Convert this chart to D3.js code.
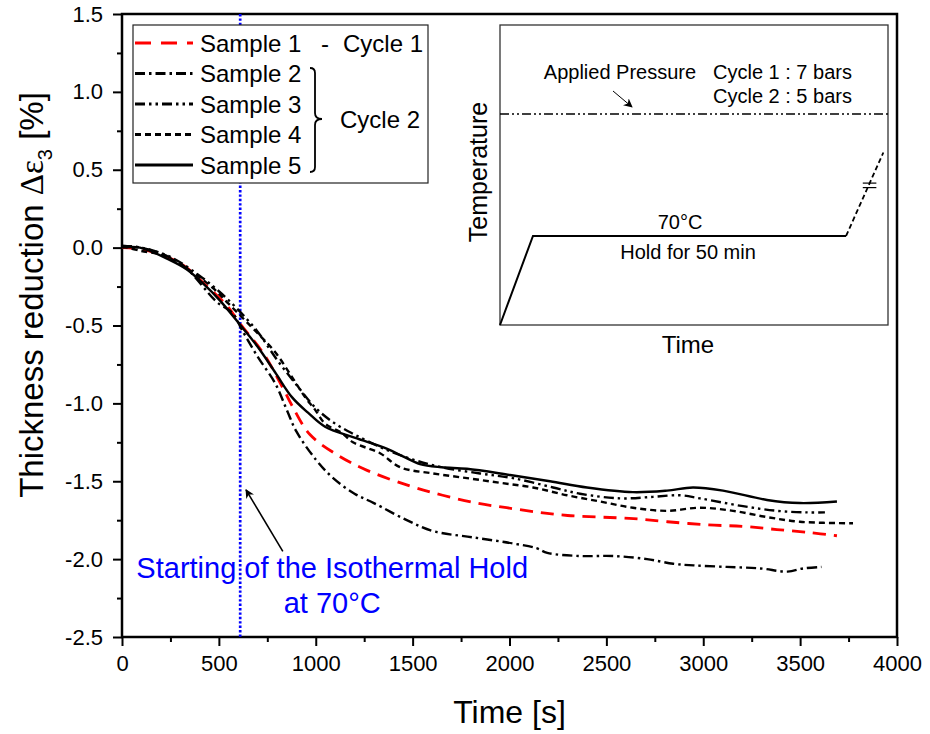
<!DOCTYPE html>
<html>
<head>
<meta charset="utf-8">
<script src="https://cdn.jsdelivr.net/npm/d3@7"></script>
<style>
  body { margin: 0; background: #fff; }
  text { font-family: Arial, "Liberation Sans", sans-serif; fill: #000; }
  .tick text { font-size: 22px; }
</style>
</head>
<body>
<div id="wrapper"></div>
<script>
// time [s] and thickness reduction [%]
const times1 = [0, 100, 300, 440, 540, 610, 730, 830, 880, 970, 1110, 1265, 1485, 1655, 1830, 1985, 2155, 2300, 2465, 2640, 2815, 3020, 3205, 3380, 3550, 3690]
const sample1 = [0, -0.01, -0.10, -0.25, -0.37, -0.49, -0.68, -0.90, -1.02, -1.20, -1.33, -1.43, -1.53, -1.59, -1.64, -1.67, -1.70, -1.72, -1.73, -1.74, -1.76, -1.78, -1.79, -1.81, -1.83, -1.85]

const times2 = [0, 100, 300, 490, 570, 620, 700, 790, 850, 900, 1000, 1090, 1200, 1300, 1470, 1605, 1810, 2020, 2140, 2195, 2365, 2535, 2710, 2845, 2950, 3120, 3295, 3435, 3515, 3610]
const sample2 = [0.01, 0, -0.10, -0.35, -0.42, -0.53, -0.70, -0.87, -1.04, -1.18, -1.36, -1.48, -1.58, -1.64, -1.75, -1.82, -1.86, -1.90, -1.93, -1.96, -1.98, -1.98, -2.00, -2.03, -2.04, -2.05, -2.06, -2.08, -2.06, -2.05]

const times3 = [0, 100, 250, 400, 500, 600, 700, 800, 900, 1000, 1100, 1200, 1350, 1500, 1650, 1848, 2018, 2225, 2364, 2570, 2741, 2880, 2983, 3205, 3381, 3535, 3628]
const sample3 = [0.01, 0, -0.06, -0.18, -0.28, -0.40, -0.54, -0.72, -0.88, -1.03, -1.13, -1.20, -1.29, -1.36, -1.41, -1.45, -1.48, -1.54, -1.58, -1.61, -1.60, -1.59, -1.61, -1.66, -1.69, -1.70, -1.70]

const times4 = [0, 93, 212, 366, 470, 550, 700, 790, 877, 945, 996, 1048, 1135, 1192, 1332, 1435, 1605, 1781, 1951, 2121, 2297, 2467, 2637, 2813, 2983, 3154, 3329, 3499, 3773]
const sample4 = [0.01, -0.02, -0.05, -0.16, -0.26, -0.36, -0.55, -0.67, -0.83, -0.96, -1.04, -1.13, -1.19, -1.25, -1.32, -1.41, -1.45, -1.48, -1.51, -1.54, -1.59, -1.63, -1.67, -1.69, -1.67, -1.69, -1.73, -1.76, -1.77]

const times5 = [0, 93, 248, 335, 418, 506, 619, 702, 790, 877, 960, 1048, 1200, 1366, 1450, 1538, 1650, 1780, 2003, 2209, 2400, 2637, 2813, 2947, 3102, 3329, 3499, 3690]
const sample5 = [0, 0, -0.08, -0.14, -0.23, -0.34, -0.51, -0.64, -0.80, -0.96, -1.06, -1.15, -1.22, -1.29, -1.34, -1.39, -1.41, -1.42, -1.46, -1.50, -1.54, -1.57, -1.56, -1.54, -1.56, -1.62, -1.64, -1.63]

const sampleNames = ["Sample 1", "Sample 2", "Sample 3", "Sample 4", "Sample 5"]
const xTicks = [0, 500, 1000, 1500, 2000, 2500, 3000, 3500, 4000]
const yTicks = [1.5, 1.0, 0.5, 0.0, -0.5, -1.0, -1.5, -2.0, -2.5]
const isothermStart = 610

// schematic inset (time / temperature in relative units 0..1)
const insetProfile = [[0, 0], [0.085, 0.297], [0.892, 0.297]]
const insetCooling = [[0.892, 0.297], [0.988, 0.575]]
const insetPressure = 0.703

function drawChart() {
  const series = [
    [times1, sample1], [times2, sample2], [times3, sample3], [times4, sample4], [times5, sample5]
  ].map(([t, v]) => t.map((d, i) => [d, v[i]]))

  const styles = [
    { color: "#ff0000", dash: "13,8", width: 2.8 },
    { color: "#000", dash: "10,4,2.5,4", width: 2.4 },
    { color: "#000", dash: "10,4,2.5,4,2.5,4", width: 2.4 },
    { color: "#000", dash: "6,4", width: 2.4 },
    { color: "#000", dash: null, width: 2.4 }
  ]

  let dimensions = {
    width: 930,
    height: 734,
    margin: { top: 14, right: 33, bottom: 97, left: 122 }
  }
  dimensions.boundedWidth = dimensions.width - dimensions.margin.left - dimensions.margin.right
  dimensions.boundedHeight = dimensions.height - dimensions.margin.top - dimensions.margin.bottom

  const wrapper = d3.select("#wrapper")
    .append("svg")
      .attr("width", dimensions.width)
      .attr("height", dimensions.height)

  const bounds = wrapper.append("g")
    .attr("transform", `translate(${dimensions.margin.left},${dimensions.margin.top})`)

  const xScale = d3.scaleLinear()
    .domain([0, 4000])
    .range([0, dimensions.boundedWidth])

  const yScale = d3.scaleLinear()
    .domain([-2.5, 1.5])
    .range([dimensions.boundedHeight, 0])

  // minor ticks
  bounds.append("g")
    .attr("transform", `translate(0,${dimensions.boundedHeight})`)
    .call(d3.axisBottom(xScale).tickValues(d3.range(250, 4000, 500)).tickSize(5).tickSizeOuter(0).tickFormat(""))
    .call(g => g.select(".domain").remove())
    .call(g => g.selectAll("line").attr("stroke-width", 2))
  bounds.append("g")
    .call(d3.axisLeft(yScale).tickValues(d3.range(-2.25, 1.5, 0.5)).tickSize(5).tickSizeOuter(0).tickFormat(""))
    .call(g => g.select(".domain").remove())
    .call(g => g.selectAll("line").attr("stroke-width", 2))

  const xAxis = bounds.append("g")
    .attr("transform", `translate(0,${dimensions.boundedHeight})`)
    .call(d3.axisBottom(xScale).tickValues(xTicks).tickSize(9).tickSizeOuter(0).tickPadding(9).tickFormat(d3.format("d")))
  const yAxis = bounds.append("g")
    .call(d3.axisLeft(yScale).tickValues(yTicks).tickSize(9).tickSizeOuter(0).tickPadding(10).tickFormat(d => d.toFixed(1)))
  xAxis.selectAll("line").attr("stroke-width", 2)
  yAxis.selectAll("line").attr("stroke-width", 2)
  xAxis.select(".domain").remove()
  yAxis.select(".domain").remove()

  bounds.append("rect")
    .attr("width", dimensions.boundedWidth)
    .attr("height", dimensions.boundedHeight)
    .attr("fill", "none")
    .attr("stroke", "#000")
    .attr("stroke-width", 2.5)

  // axis titles
  wrapper.append("text")
    .attr("x", dimensions.margin.left + dimensions.boundedWidth / 2)
    .attr("y", 723)
    .attr("text-anchor", "middle")
    .style("font-size", "32px")
    .text("Time [s]")

  const yLabel = wrapper.append("text")
    .attr("transform", "translate(43,295) rotate(-90)")
    .attr("text-anchor", "middle")
    .style("font-size", "33px")
  yLabel.append("tspan").text("Thickness reduction ")
  yLabel.append("tspan").text("Δε").style("font-family", "'Liberation Serif', 'DejaVu Serif', serif")
  yLabel.append("tspan").text("3").style("font-size", "20px").attr("dy", 9)
  yLabel.append("tspan").text(" [%]").attr("dy", -9)

  // isothermal hold marker
  bounds.append("line")
    .attr("x1", xScale(isothermStart))
    .attr("x2", xScale(isothermStart))
    .attr("y1", 0)
    .attr("y2", dimensions.boundedHeight)
    .attr("stroke", "#0000ff")
    .attr("stroke-width", 2.7)
    .attr("stroke-dasharray", "2.4,2")

  // curves
  const lineGenerator = d3.line()
    .x(d => xScale(d[0]))
    .y(d => yScale(d[1]))
    .curve(d3.curveCatmullRom)

  bounds.selectAll(".curve")
    .data(series)
    .enter().append("path")
      .attr("class", "curve")
      .attr("d", lineGenerator)
      .attr("fill", "none")
      .attr("stroke", (d, i) => styles[i].color)
      .attr("stroke-width", (d, i) => styles[i].width)
      .attr("stroke-dasharray", (d, i) => styles[i].dash)
      .attr("stroke-linejoin", "round")

  // annotation
  wrapper.append("defs").append("marker")
    .attr("id", "arrow")
    .attr("viewBox", "0 0 10 10")
    .attr("refX", 9).attr("refY", 5)
    .attr("markerWidth", 9).attr("markerHeight", 9)
    .attr("markerUnits", "userSpaceOnUse")
    .attr("orient", "auto")
    .append("path")
      .attr("d", "M0,0 L10,5 L0,10 L3,5 Z")
      .attr("fill", "#000")

  bounds.append("line")
    .attr("x1", xScale(830)).attr("y1", yScale(-1.95))
    .attr("x2", xScale(640)).attr("y2", yScale(-1.555))
    .attr("stroke", "#000")
    .attr("stroke-width", 1.6)
    .attr("marker-end", "url(#arrow)")

  const note = bounds.append("text")
    .attr("text-anchor", "middle")
    .style("font-size", "29px")
    .style("fill", "#0000ff")
  note.append("tspan").attr("x", xScale(1085)).attr("y", yScale(-2.12)).text("Starting of the Isothermal Hold")
  note.append("tspan").attr("x", xScale(1085)).attr("y", yScale(-2.345)).text("at 70°C")

  // legend
  const legend = wrapper.append("g").attr("id", "legend")
  legend.append("rect")
    .attr("x", 133).attr("y", 25)
    .attr("width", 295).attr("height", 158)
    .attr("fill", "#fff")
    .attr("stroke", "#222")
    .attr("stroke-width", 1.2)

  sampleNames.forEach((name, i) => {
    const y = 43 + i * 30.5
    legend.append("line")
      .attr("x1", 135).attr("x2", 193)
      .attr("y1", y).attr("y2", y)
      .attr("stroke", styles[i].color)
      .attr("stroke-width", styles[i].width + 0.4)
      .attr("stroke-dasharray", i === 0 ? "16,10" : styles[i].dash)
    legend.append("text")
      .attr("x", 200).attr("y", y)
      .attr("dy", "0.36em")
      .style("font-size", "24px")
      .text(name)
  })
  legend.append("text").attr("x", 321).attr("y", 43).attr("dy", "0.36em").style("font-size", "24px").text("-")
  legend.append("text").attr("x", 343).attr("y", 43).attr("dy", "0.36em").style("font-size", "24px").text("Cycle 1")

  legend.append("path")
    .attr("d", "M310,68 q5,0 5,5 v40 q0,6 7,6 q-7,0 -7,6 v42 q0,5 -5,5")
    .attr("fill", "none")
    .attr("stroke", "#000")
    .attr("stroke-width", 1.8)
  legend.append("text").attr("x", 340).attr("y", 119).attr("dy", "0.36em").style("font-size", "24px").text("Cycle 2")

  // inset: temperature / pressure schedule
  const inX = d3.scaleLinear().domain([0, 1]).range([500, 888])
  const inY = d3.scaleLinear().domain([0, 1]).range([325, 25])
  const inset = wrapper.append("g").attr("id", "inset")
  inset.append("rect")
    .attr("x", inX(0)).attr("y", inY(1))
    .attr("width", inX(1) - inX(0)).attr("height", inY(0) - inY(1))
    .attr("fill", "#fff")
    .attr("stroke", "#333")
    .attr("stroke-width", 1.3)

  const insetLine = d3.line().x(d => inX(d[0])).y(d => inY(d[1]))
  inset.append("path")
    .attr("d", insetLine(insetProfile))
    .attr("fill", "none").attr("stroke", "#000").attr("stroke-width", 2)
  inset.append("path")
    .attr("d", insetLine(insetCooling))
    .attr("fill", "none").attr("stroke", "#000").attr("stroke-width", 1.8)
    .attr("stroke-dasharray", "5,3")
  inset.append("path")
    .attr("d", insetLine([[0, insetPressure], [1, insetPressure]]))
    .attr("fill", "none").attr("stroke", "#000").attr("stroke-width", 1.5)
    .attr("stroke-dasharray", "9,3,2,3,2,3")

  // break mark on the cooling ramp
  ;[0.473, 0.458].forEach(v => {
    inset.append("line")
      .attr("x1", inX(0.935)).attr("x2", inX(0.97))
      .attr("y1", inY(v)).attr("y2", inY(v))
      .attr("stroke", "#000").attr("stroke-width", 1.2)
  })

  inset.append("line")
    .attr("x1", 613).attr("y1", 91)
    .attr("x2", 632).attr("y2", 107)
    .attr("stroke", "#000").attr("stroke-width", 1)
    .attr("marker-end", "url(#arrow)")

  const inText = (x, y, str, size, anchor) => inset.append("text")
    .attr("x", x).attr("y", y)
    .attr("text-anchor", anchor || "start")
    .style("font-size", size + "px")
    .text(str)

  inText(620, 79, "Applied Pressure", 20, "middle")
  inText(713, 79, "Cycle 1 : 7 bars", 20)
  inText(713, 103, "Cycle 2 : 5 bars", 20)
  inText(680, 229, "70°C", 20, "middle")
  inText(688, 259, "Hold for 50 min", 20, "middle")
  inText(688, 353, "Time", 24, "middle")

  inset.append("text")
    .attr("transform", "translate(487,172) rotate(-90)")
    .attr("text-anchor", "middle")
    .style("font-size", "25px")
    .text("Temperature")
}

drawChart()
</script>
</body>
</html>
